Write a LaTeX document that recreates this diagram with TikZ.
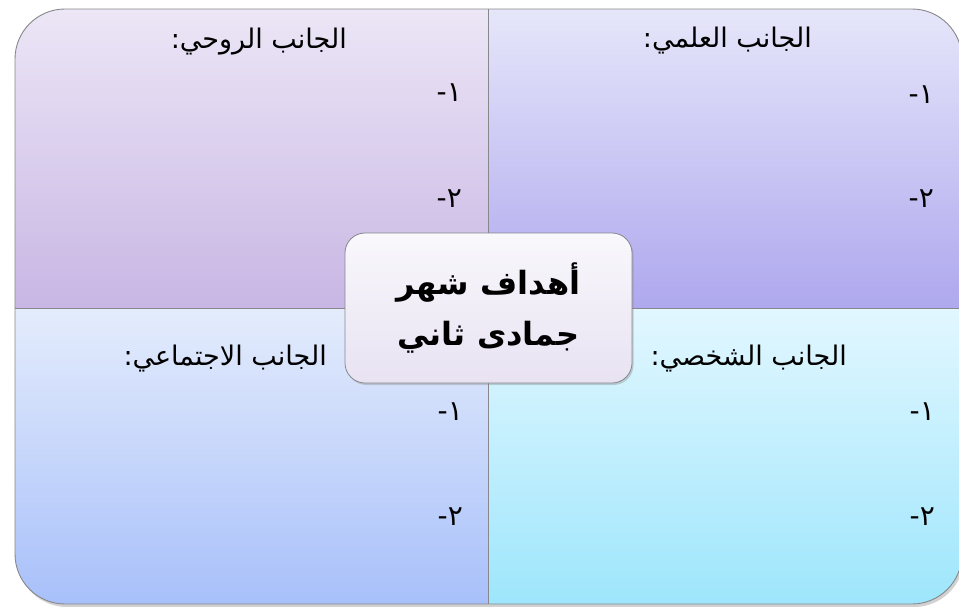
\documentclass[tikz,border=0pt]{standalone}
\usepackage{fontspec}
\usetikzlibrary{shadows}
\TeXXeTstate=1
\newfontfamily\arabicfont[Script=Arabic]{DejaVu Sans}
\definecolor{tlTop}{RGB}{236,230,246}
\definecolor{tlBot}{RGB}{200,182,228}
\definecolor{trTop}{RGB}{230,230,250}
\definecolor{trBot}{RGB}{174,168,238}
\definecolor{blTop}{RGB}{228,236,252}
\definecolor{blBot}{RGB}{168,192,250}
\definecolor{brTop}{RGB}{226,247,255}
\definecolor{brBot}{RGB}{158,230,252}
\definecolor{cTop}{RGB}{249,248,252}
\definecolor{cBot}{RGB}{232,226,242}
\definecolor{edge}{RGB}{135,135,140}
\tikzset{
  title/.style={anchor=east, inner sep=0pt, font=\arabicfont\fontsize{27}{30}\selectfont},
  item/.style={anchor=east, inner sep=0pt, font=\arabicfont\fontsize{28}{30}\selectfont},
  centerbox/.style={draw=edge, line width=0.8pt, rounded corners=20pt,
    top color=cTop, bottom color=cBot, minimum width=287pt, minimum height=150pt,
    align=center, inner sep=0pt,
    font=\arabicfont\bfseries\fontsize{32}{51}\selectfont,
    drop shadow={opacity=0.35, shadow xshift=1.5pt, shadow yshift=-2pt}},
}
\begin{document}
\begin{tikzpicture}[x=1pt,y=-1pt]
\useasboundingbox (0,0) rectangle (959,606);
% outer shadow
\fill[black,opacity=0.18,rounded corners=50pt] (17,12) rectangle (964,607);
\begin{scope}
\clip[rounded corners=50pt] (15,9) rectangle (962,604);
\shade[top color=tlTop, bottom color=tlBot] (15,9) rectangle (488,308);
\shade[top color=trTop, bottom color=trBot] (488,9) rectangle (962,308);
\shade[top color=blTop, bottom color=blBot] (15,308) rectangle (488,604);
\shade[top color=brTop, bottom color=brBot] (488,308) rectangle (962,604);
\end{scope}
\draw[edge, line width=0.9pt, rounded corners=50pt] (15,9) rectangle (962,604);
\draw[edge, line width=0.9pt] (488,9) -- (488,604);
\draw[edge, line width=0.9pt] (15,308) -- (962,308);

% titles
\node[title] (tTL) at (347,42) {\beginR الجانب الروحي:\endR};
\node[title] (tTR) at (812,41) {\beginR الجانب العلمي:\endR};
\node[title] (tBL) at (327,359) {\beginR الجانب الاجتماعي:\endR};
\node[title] (tBR) at (847,359) {\beginR الجانب الشخصي:\endR};

% items
\node[item] (tl1) at (462,93) {\beginR ١-\endR};
\node[item] (tl2) at (462,199) {\beginR ٢-\endR};
\node[item] (tr1) at (934,95) {\beginR ١-\endR};
\node[item] (tr2) at (934,199) {\beginR ٢-\endR};
\node[item] (bl1) at (463,412) {\beginR ١-\endR};
\node[item] (bl2) at (463,517) {\beginR ٢-\endR};
\node[item] (br1) at (935,412) {\beginR ١-\endR};
\node[item] (br2) at (935,517) {\beginR ٢-\endR};

% center
\node[centerbox] (center) at (488.5,308) {\beginR أهداف شهر\endR\\\beginR جمادى ثاني\endR};
\end{tikzpicture}
\end{document}
